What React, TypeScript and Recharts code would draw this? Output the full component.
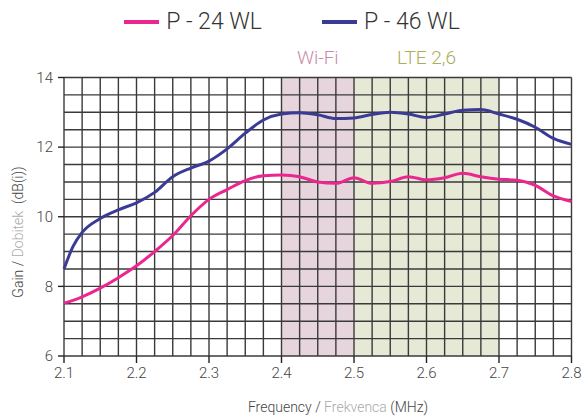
import React from 'react'
import { LineChart, Line, XAxis, YAxis, ReferenceArea, ReferenceLine } from 'recharts'

const freq = [
  2.1, 2.1125, 2.125, 2.15, 2.175, 2.2, 2.225, 2.25, 2.275, 2.3, 2.325, 2.35, 2.375, 2.4, 2.425,
  2.45, 2.475, 2.5, 2.525, 2.55, 2.575, 2.6, 2.625, 2.65, 2.675, 2.7, 2.725, 2.75, 2.775, 2.8,
]
const p24 = [
  7.52, 7.6, 7.7, 7.95, 8.25, 8.59, 9.0, 9.46, 10.03, 10.5, 10.78, 11.04, 11.18, 11.2, 11.15,
  11.0, 10.96, 11.12, 10.96, 11.01, 11.15, 11.06, 11.12, 11.25, 11.15, 11.08, 11.05, 10.9, 10.6, 10.44,
]
const p46 = [
  8.5, 9.15, 9.55, 9.95, 10.2, 10.4, 10.7, 11.15, 11.4, 11.6, 11.95, 12.4, 12.78, 12.95, 12.99,
  12.93, 12.82, 12.84, 12.94, 13.0, 12.95, 12.85, 12.95, 13.06, 13.08, 12.95, 12.8, 12.57, 12.25, 12.08,
]

const xTicks = [2.1, 2.2, 2.3, 2.4, 2.5, 2.6, 2.7, 2.8]
const yTicks = [6, 8, 10, 12, 14]
const xGrid = [
  2.1, 2.125, 2.15, 2.175, 2.2, 2.225, 2.25, 2.275, 2.3, 2.325, 2.35, 2.375, 2.4, 2.425, 2.45, 2.475,
  2.5, 2.525, 2.55, 2.575, 2.6, 2.625, 2.65, 2.675, 2.7, 2.725, 2.75, 2.775, 2.8,
]
const yGrid = [6, 6.5, 7, 7.5, 8, 8.5, 9, 9.5, 10, 10.5, 11, 11.5, 12, 12.5, 13, 13.5, 14]

const bands = [
  { name: 'Wi-Fi', from: 2.4, to: 2.5, fill: '#b8879e', text: '#c98aa8' },
  { name: 'LTE 2,6', from: 2.5, to: 2.7, fill: '#b8c087', text: '#a9ad5c' },
]

const series = [
  { key: 'p24', name: 'P - 24 WL', color: '#ec268f' },
  { key: 'p46', name: 'P - 46 WL', color: '#3b3b96' },
]

const data = freq.map((f, i) => ({ f, p24: p24[i], p46: p46[i] }))

const font = 'Roboto, sans-serif'

export default function App() {
  return (
    <div style={{ position: 'absolute', left: 0, top: 0, width: 584, height: 417, fontFamily: font }}>
      <div style={{ position: 'absolute', top: 8, left: 0, width: 584, display: 'flex', justifyContent: 'center', gap: 60 }}>
        {series.map((s) => (
          <div key={s.key} style={{ display: 'flex', alignItems: 'center' }}>
            <div style={{ width: 35, height: 4, background: s.color, marginRight: 7 }} />
            <span style={{ fontSize: 23, color: '#333', fontWeight: 300 }}>{s.name}</span>
          </div>
        ))}
      </div>

      <LineChart width={584} height={417} data={data} margin={{ top: 77.5, right: 12.5, bottom: 30, left: 0 }}>
        {bands.map((b) => (
          <ReferenceArea
            key={b.name}
            x1={b.from}
            x2={b.to}
            y1={6}
            y2={14}
            fill={b.fill}
            fillOpacity={0.35}
            stroke="none"
            label={{ value: b.name, position: 'top', offset: 14, fill: b.text, fontSize: 19, fontFamily: font, fontWeight: 300 }}
          />
        ))}
        {xGrid.map((v) => (
          <ReferenceLine key={'x' + v} x={v} stroke="#3a3a3a" strokeWidth={1.4} />
        ))}
        {yGrid.map((v) => (
          <ReferenceLine key={'y' + v} y={v} stroke="#3a3a3a" strokeWidth={1.4} />
        ))}
        <XAxis
          dataKey="f"
          type="number"
          domain={[2.1, 2.8]}
          ticks={xTicks}
          tickFormatter={(v) => v.toFixed(1)}
          axisLine={false}
          tickLine={{ stroke: '#222', strokeWidth: 1.4 }}
          tickSize={7}
          tickMargin={4}
          tick={{ fill: '#444', fontSize: 15, fontFamily: font, fontWeight: 300 }}
          height={31}
        />
        <YAxis
          type="number"
          domain={[6, 14]}
          ticks={yTicks}
          axisLine={false}
          tickLine={{ stroke: '#222', strokeWidth: 1.4 }}
          tickSize={6}
          tickMargin={5}
          tick={{ fill: '#444', fontSize: 15, fontFamily: font, fontWeight: 300 }}
          width={64}
        />
        {series.map((s) => (
          <Line
            key={s.key}
            dataKey={s.key}
            type="monotone"
            stroke={s.color}
            strokeWidth={3}
            dot={false}
            isAnimationActive={false}
          />
        ))}
      </LineChart>

      <div style={{ position: 'absolute', left: 0, width: 584, top: 399, paddingLeft: 92, boxSizing: 'border-box', textAlign: 'center', fontSize: 14, color: '#444', fontWeight: 300 }}>
        Frequency / <span style={{ color: '#aaa' }}>Frekvenca</span> (MHz)
      </div>
      <div
        style={{
          position: 'absolute',
          left: 18,
          top: 232,
          transform: 'translate(-50%, -50%) rotate(-90deg)',
          whiteSpace: 'nowrap',
          fontSize: 14,
          color: '#444',
          fontWeight: 300,
        }}
      >
        Gain / <span style={{ color: '#aaa' }}>Dobitek</span>&nbsp;&nbsp;(dB(i))
      </div>
    </div>
  )
}
